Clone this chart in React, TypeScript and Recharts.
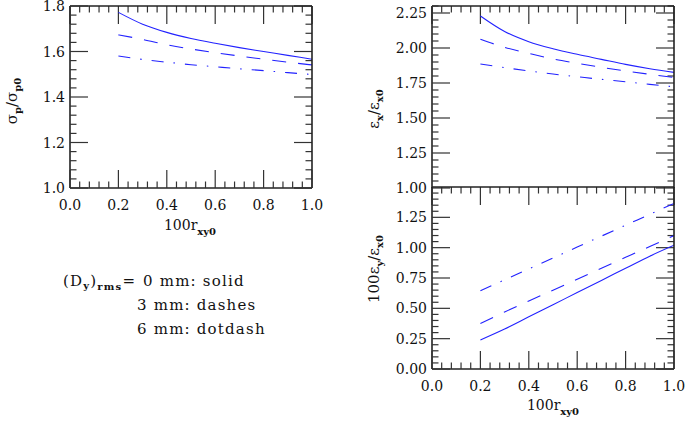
import React from 'react';
import { LineChart, Line, XAxis, YAxis, ReferenceLine } from 'recharts';

// ---------- data ----------
const rValues = [0.2, 0.3, 0.4, 0.5, 0.6, 0.7, 0.8, 0.9, 1.0];

const sigmaSolid = [1.772, 1.72, 1.684, 1.657, 1.636, 1.617, 1.6, 1.583, 1.566];
const sigmaDashed = [1.673, 1.653, 1.63, 1.611, 1.595, 1.58, 1.566, 1.553, 1.541];
const sigmaDotdash = [1.58, 1.565, 1.553, 1.542, 1.533, 1.524, 1.516, 1.507, 1.499];

const exSolid = [2.229, 2.118, 2.045, 1.995, 1.955, 1.919, 1.883, 1.852, 1.826];
const exDashed = [2.062, 2.005, 1.962, 1.922, 1.891, 1.862, 1.836, 1.812, 1.79];
const exDotdash = [1.886, 1.86, 1.836, 1.814, 1.795, 1.776, 1.759, 1.74, 1.723];

const eySolid = [0.24, 0.33, 0.43, 0.53, 0.63, 0.73, 0.83, 0.93, 1.02];
const eyDashed = [0.375, 0.47, 0.56, 0.65, 0.74, 0.83, 0.92, 1.01, 1.1];
const eyDotdash = [0.645, 0.735, 0.825, 0.915, 1.005, 1.095, 1.185, 1.275, 1.365];

// ---------- ticks ----------
const xMajor = [0, 0.2, 0.4, 0.6, 0.8, 1.0];
const xLabels = ['0.0', '0.2', '0.4', '0.6', '0.8', '1.0'];
const xMinorStep = 0.04;

const sigmaMajor = [1.0, 1.2, 1.4, 1.6, 1.8];
const sigmaLabels = ['1.0', '1.2', '1.4', '1.6', '1.8'];
const sigmaMinorStep = 0.04;

const exMajor = [1.0, 1.25, 1.5, 1.75, 2.0, 2.25];
const exLabels = ['1.00', '1.25', '1.50', '1.75', '2.00', '2.25'];
const exMinorStep = 0.05;

const eyMajor = [0, 0.25, 0.5, 0.75, 1.0, 1.25];
const eyLabels = ['0.00', '0.25', '0.50', '0.75', '1.00', '1.25'];
const eyMinorStep = 0.05;

function allTicks(lo: number, hi: number, step: number): number[] {
  const n = Math.round((hi - lo) / step);
  const out: number[] = [];
  for (let i = 0; i <= n; i++) out.push(Math.round((lo + i * step) * 1e6) / 1e6);
  return out;
}

const xTicks = allTicks(0, 1, xMinorStep);
const sigmaTicks = allTicks(1.0, 1.8, sigmaMinorStep);
const exTicks = allTicks(1.0, 2.3, exMinorStep);
const eyTicks = allTicks(0, 1.45, eyMinorStep);

const rows = (a: number[], b: number[], c: number[]) =>
  rValues.map((r, i) => ({ r, solid: a[i], dashed: b[i], dotdash: c[i] }));

const sigmaData = rows(sigmaSolid, sigmaDashed, sigmaDotdash);
const exData = rows(exSolid, exDashed, exDotdash);
const eyData = rows(eySolid, eyDashed, eyDotdash);

// ---------- style ----------
const FONT = '"DejaVu Serif", serif';
const BLUE = '#2222ff';
const FRAME = '#222';
const TICK_COLOR = '#333';
const MAJOR_LEN = 18;
const MINOR_LEN = 6.5;
const TICK_FONT = 14;
const RIGHT_W = 10;
const TOP_H = 6;

const isMajor = (majors: number[], v: number) => majors.some((m) => Math.abs(m - v) < 1e-6);

const makeTick = (side: 'left' | 'bottom', majors: number[], labels: string[] | null) => (props: any) => {
  const { payload } = props;
  const x = Number(props.x);
  const y = Number(props.y);
  const v = Number(payload.value);
  const idx = majors.findIndex((m) => Math.abs(m - v) < 1e-6);
  const len = idx >= 0 ? MAJOR_LEN : MINOR_LEN;
  const label = idx >= 0 && labels ? labels[idx] : null;
  if (side === 'left') {
    return (
      <g>
        <line x1={x} y1={y} x2={x + len} y2={y} stroke={TICK_COLOR} strokeWidth={1.2} />
        {label && (
          <text x={x - 5} y={y + 5} textAnchor="end" fontSize={TICK_FONT} fontFamily={FONT} fill="#111">
            {label}
          </text>
        )}
      </g>
    );
  }
  return (
    <g>
      <line x1={x} y1={y} x2={x} y2={y - len} stroke={TICK_COLOR} strokeWidth={1.2} />
      {label && (
        <text x={x} y={y + 22} textAnchor="middle" fontSize={TICK_FONT} fontFamily={FONT} fill="#111">
          {label}
        </text>
      )}
    </g>
  );
};

function Panel(props: {
  data: any[];
  width: number;
  height: number;
  margin: { top: number; right: number; bottom: number; left: number };
  yWidth: number;
  yDomain: [number, number];
  yTicks: number[];
  yMajor: number[];
  yLabels: string[];
  xLabelsShown: boolean;
  xHeight: number;
}) {
  const { data, width, height, margin, yWidth, yDomain, yTicks, yMajor, yLabels, xLabelsShown, xHeight } = props;
  const plotW = width - margin.left - margin.right - yWidth - RIGHT_W;
  const plotH = height - margin.top - margin.bottom - xHeight - TOP_H;
  const xPerPx = 1 / plotW;
  const yPerPx = (yDomain[1] - yDomain[0]) / plotH;
  return (
    <LineChart width={width} height={height} data={data} margin={margin}>
      <XAxis
        xAxisId="b"
        dataKey="r"
        type="number"
        domain={[0, 1]}
        ticks={xTicks}
        interval={0}
        orientation="bottom"
        height={xHeight}
        tickSize={0}
        tickMargin={0}
        tickLine={false}
        allowDataOverflow
        axisLine={{ stroke: FRAME, strokeWidth: 1.6 }}
        tick={makeTick('bottom', xMajor, xLabelsShown ? xLabels : null)}
      />
      <XAxis
        xAxisId="t"
        dataKey="r"
        type="number"
        domain={[0, 1]}
        orientation="top"
        height={TOP_H}
        tick={false}
        tickLine={false}
        axisLine={{ stroke: FRAME, strokeWidth: 1.6 }}
      />
      <YAxis
        yAxisId="l"
        type="number"
        domain={yDomain}
        ticks={yTicks}
        interval={0}
        orientation="left"
        width={yWidth}
        tickSize={0}
        tickMargin={0}
        tickLine={false}
        allowDataOverflow
        axisLine={{ stroke: FRAME, strokeWidth: 1.6 }}
        tick={makeTick('left', yMajor, yLabels)}
      />
      <YAxis
        yAxisId="r"
        type="number"
        domain={yDomain}
        orientation="right"
        width={RIGHT_W}
        tick={false}
        tickLine={false}
        axisLine={{ stroke: FRAME, strokeWidth: 1.6 }}
      />
      {/* inward ticks on the right edge */}
      {yTicks.map((v) => (
        <ReferenceLine
          key={`ry${v}`}
          xAxisId="b"
          yAxisId="l"
          ifOverflow="visible"
          segment={[
            { x: 1, y: v },
            { x: 1 - (isMajor(yMajor, v) ? MAJOR_LEN : MINOR_LEN) * xPerPx, y: v },
          ]}
          stroke={TICK_COLOR}
          strokeWidth={1.2}
        />
      ))}
      {/* inward ticks on the top edge */}
      {xTicks.map((v) => (
        <ReferenceLine
          key={`tx${v}`}
          xAxisId="b"
          yAxisId="l"
          ifOverflow="visible"
          segment={[
            { x: v, y: yDomain[1] },
            { x: v, y: yDomain[1] - (isMajor(xMajor, v) ? MAJOR_LEN : MINOR_LEN) * yPerPx },
          ]}
          stroke={TICK_COLOR}
          strokeWidth={1.2}
        />
      ))}
      <Line xAxisId="b" yAxisId="l" dataKey="solid" type="monotone" stroke={BLUE} strokeWidth={1.1} dot={false} isAnimationActive={false} />
      <Line xAxisId="b" yAxisId="l" dataKey="dashed" type="monotone" stroke={BLUE} strokeWidth={1.1} strokeDasharray="14 12" dot={false} isAnimationActive={false} />
      <Line xAxisId="b" yAxisId="l" dataKey="dotdash" type="monotone" stroke={BLUE} strokeWidth={1.1} strokeDasharray="12 10 1.5 10" dot={false} isAnimationActive={false} />
    </LineChart>
  );
}

const sub = { fontSize: 10, fontWeight: 'bold' as const };

export default function App() {
  return (
    <div style={{ position: 'absolute', left: 0, top: 0, width: 687, height: 421, background: '#fff', fontFamily: FONT }}>
      <div style={{ position: 'absolute', left: 0, top: 0 }}>
        <Panel
          data={sigmaData}
          width={340}
          height={240}
          margin={{ top: 0, right: 18, bottom: 22, left: 0 }}
          yWidth={70}
          yDomain={[1.0, 1.8]}
          yTicks={sigmaTicks}
          yMajor={sigmaMajor}
          yLabels={sigmaLabels}
          xLabelsShown={true}
          xHeight={30}
        />
      </div>
      <div style={{ position: 'absolute', left: 340, top: 0 }}>
        <Panel
          data={exData}
          width={347}
          height={200}
          margin={{ top: 0, right: 3, bottom: 12, left: 0 }}
          yWidth={92}
          yDomain={[1.0, 2.3]}
          yTicks={exTicks}
          yMajor={exMajor}
          yLabels={exLabels}
          xLabelsShown={false}
          xHeight={0}
        />
      </div>
      <div style={{ position: 'absolute', left: 340, top: 180 }}>
        <Panel
          data={eyData}
          width={347}
          height={241}
          margin={{ top: 1, right: 3, bottom: 22, left: 0 }}
          yWidth={92}
          yDomain={[0, 1.5]}
          yTicks={eyTicks}
          yMajor={eyMajor}
          yLabels={eyLabels}
          xLabelsShown={true}
          xHeight={30}
        />
      </div>
      <svg
        width={687}
        height={421}
        style={{ position: 'absolute', left: 0, top: 0, pointerEvents: 'none' }}
        fontFamily={FONT}
        fill="#111"
      >
        {/* y-axis labels */}
        <text transform="translate(17,101) rotate(-90)" textAnchor="middle" fontSize={15}>
          σ<tspan dy={4} style={sub}>p</tspan>
          <tspan dy={-4}>/σ</tspan>
          <tspan dy={4} style={sub}>p0</tspan>
        </text>
        <text transform="translate(379,109) rotate(-90)" textAnchor="middle" fontSize={15}>
          ε<tspan dy={4} style={sub}>x</tspan>
          <tspan dy={-4}>/ε</tspan>
          <tspan dy={4} style={sub}>x0</tspan>
        </text>
        <text transform="translate(379,269) rotate(-90)" textAnchor="middle" fontSize={15}>
          100ε<tspan dy={4} style={sub}>y</tspan>
          <tspan dy={-4}>/ε</tspan>
          <tspan dy={4} style={sub}>x0</tspan>
        </text>
        {/* x-axis labels */}
        <text x={190} y={230} textAnchor="middle" fontSize={14}>
          100r<tspan dy={5} style={sub}>xy0</tspan>
        </text>
        <text x={553} y={410} textAnchor="middle" fontSize={14}>
          100r<tspan dy={5} style={sub}>xy0</tspan>
        </text>
        {/* legend */}
        <text x={63} y={286} fontSize={15} letterSpacing={1.2}>
          (D<tspan dy={3} style={sub}>y</tspan>
          <tspan dy={-3}>)</tspan>
          <tspan dy={4} style={sub}>rms</tspan>
          <tspan dy={-4}>=</tspan>
        </text>
        <text x={143} y={286} fontSize={15} letterSpacing={1.2}>0 mm: solid</text>
        <text x={137} y={310} fontSize={15} letterSpacing={1.2}>3 mm: dashes</text>
        <text x={137} y={334} fontSize={15} letterSpacing={1.2}>6 mm: dotdash</text>
      </svg>
    </div>
  );
}
